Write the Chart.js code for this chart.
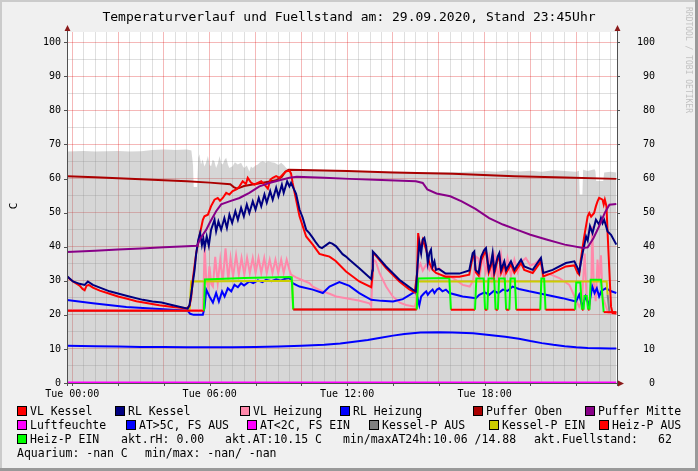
<!DOCTYPE html>
<html>
<head>
<meta charset="utf-8">
<script src="https://cdn.jsdelivr.net/npm/chart.js@4.4.0/dist/chart.umd.min.js"></script>
<style>
	html, body { margin:0; padding:0; background:#f0f0f0; }
	#wrap { position:relative; width:698px; height:471px; overflow:hidden; font-family:'DejaVu Sans Mono', monospace; color:#000; }
	#c { position:absolute; left:0; top:0; }
	.t { position:absolute; white-space:pre; }
	.lg { position:absolute; white-space:pre; font-size:11.5px; line-height:14px; height:14px; }
	.sq { position:absolute; width:8px; height:8px; border:1px solid #000; }
</style>
</head>
<body>
<div id="wrap">
<canvas id="c" width="698" height="471"></canvas>
<div class="t" style="left:0; top:10px; width:698px; text-align:center; font-size:13px; line-height:14px;">Temperaturverlauf und Fuellstand am: 29.09.2020, Stand 23:45Uhr</div>
<div class="t" style="left:8px; top:199px; width:12px; height:14px; text-align:center; font-size:11px; line-height:14px; transform:rotate(-90deg);">C</div>
<div class="t" style="left:628px; top:55px; width:120px; height:10px; text-align:center; font-size:8px; line-height:10px; color:#c2c2c2; transform:rotate(90deg);">RRDTOOL / TOBI OETIKER</div>
<div id="legend"></div>
</div>
<script>
// time in hours since Tue 00:00, values in C
var fuellstand = [[-0.25,67.9],[0.5,68.1],[1.0,67.9],[1.5,68.0],[2.0,68.1],[2.5,67.9],[3.0,68.0],[3.5,68.4],[4.0,68.5],[4.5,68.4],[5.0,68.5],[5.2,68.2],[5.27,64],[5.3,57.5],[5.45,57.5],[5.5,66],[5.55,67.1],[5.62,64.1],[5.69,65.6],[5.77,63.5],[5.84,64.6],[5.92,66.6],[6.0,64],[6.06,63.6],[6.13,65.5],[6.2,65.1],[6.28,63.1],[6.36,64.5],[6.43,66.6],[6.5,64.5],[6.57,64.1],[6.65,65.5],[6.72,66.1],[6.8,64],[6.86,63.1],[7.0,63.6],[7.1,64.8],[7.22,64.1],[7.37,64.6],[7.45,63.5],[7.51,63.1],[7.62,63.8],[7.73,62.1],[7.8,63.5],[7.88,63.1],[8.0,63.8],[8.1,64.1],[8.2,64.8],[8.32,65.1],[8.45,64.6],[8.54,65.1],[8.7,64.8],[8.83,64.6],[9.0,64.0],[9.12,64.6],[9.25,63.8],[9.34,63.1],[9.48,62.6],[10,62.4],[12,62.2],[15,61.9],[17,61.9],[18,62.2],[18.5,62.0],[19,62.4],[19.5,62.1],[20,62.3],[20.5,62.0],[21,62.4],[21.5,62.2],[22,62.0],[22.12,62.3],[22.15,55.3],[22.27,55.3],[22.3,62.6],[22.5,62.2],[22.8,62.7],[22.84,62.1],[22.87,59.3],[23.18,59.3],[23.22,61.8],[23.5,62.0],[23.75,61.8]];
var vlKessel = [[-0.25,31.3],[0.03,29.8],[0.32,28.6],[0.45,27.6],[0.54,27.2],[0.62,28.5],[0.72,28.8],[0.9,28.0],[1.2,27.1],[1.63,26.2],[2.0,25.4],[2.4,24.7],[2.8,24.0],[3.3,23.4],[3.8,22.8],[4.4,22.3],[5.0,21.9],[5.12,22.6],[5.19,25.0],[5.26,30.3],[5.34,34.5],[5.41,38.1],[5.55,43],[5.7,47.9],[5.77,48.9],[5.92,49.4],[6.06,51.9],[6.21,53.8],[6.35,54.3],[6.45,53.5],[6.57,54.3],[6.72,55.8],[6.86,55.3],[7.0,56.3],[7.16,56.8],[7.3,57.7],[7.44,59.2],[7.58,58.4],[7.66,60.2],[7.8,58.8],[7.95,58.2],[8.1,58.7],[8.25,59.2],[8.39,58.2],[8.54,57.0],[8.65,59.7],[8.75,60.2],[8.9,60.7],[9.05,60.2],[9.19,61.2],[9.34,62.1],[9.48,62.3],[9.55,61.5],[9.62,58.7],[9.77,53.8],[9.92,48.9],[10.21,43],[10.5,40.6],[10.79,37.9],[11.0,37.5],[11.23,37.1],[11.5,35.8],[11.95,32.7],[12.53,29.8],[13.05,28.1],[13.1,31],[13.13,38.1],[13.25,37.4],[13.7,33.7],[14.28,29.8],[14.7,27.5],[14.95,26.6],[15.05,32],[15.1,44],[15.2,39],[15.3,42],[15.45,39.1],[15.59,35.2],[15.73,33.2],[15.88,32.3],[16.3,31.2],[16.9,31.2],[17.33,31.8],[17.48,37],[17.55,37.5],[17.62,32.5],[17.74,31.5],[17.85,36],[18.0,38.2],[18.06,38.6],[18.18,32.3],[18.28,34.3],[18.35,37.2],[18.42,31.8],[18.57,36.2],[18.64,37.2],[18.72,32.3],[18.86,34.8],[18.94,32.3],[19.15,34.8],[19.3,32.3],[19.59,35.2],[19.73,33.2],[20.1,32.3],[20.46,35.7],[20.56,31.3],[20.97,32.3],[21.55,34.2],[21.92,34.5],[22.06,32.3],[22.13,31.8],[22.2,36.2],[22.35,43],[22.5,48.9],[22.57,49.9],[22.65,48.8],[22.78,49.9],[22.86,51.9],[22.93,53.3],[23.0,54.3],[23.15,53.8],[23.2,52.4],[23.25,53.8],[23.32,51.9],[23.37,44],[23.45,32.3],[23.52,22.4],[23.59,20.5],[23.75,20.4]];
var rlKessel = [[-0.25,31.5],[0.03,29.8],[0.32,29.1],[0.54,28.8],[0.68,29.8],[0.9,28.8],[1.63,26.9],[2.36,25.6],[3.08,24.4],[3.5,23.9],[3.9,23.6],[4.39,22.8],[5.04,21.8],[5.12,22.9],[5.19,25.9],[5.26,29.3],[5.34,33.2],[5.41,38],[5.5,42],[5.58,44],[5.66,40.5],[5.72,42.5],[5.78,39.8],[5.87,43],[5.96,40.3],[6.06,45],[6.21,47.9],[6.28,44.5],[6.38,47.4],[6.5,45],[6.64,48.4],[6.75,45.5],[6.86,49.4],[6.98,47.0],[7.12,50.4],[7.23,47.9],[7.37,51.4],[7.49,48.9],[7.62,52.4],[7.73,49.9],[7.88,53.3],[8.0,50.9],[8.14,54.3],[8.25,51.9],[8.39,55.3],[8.49,52.9],[8.64,56.3],[8.75,53.8],[8.9,57.3],[9.0,54.8],[9.15,58.2],[9.23,55.8],[9.38,59.2],[9.48,57.7],[9.55,58.7],[9.62,57.7],[9.77,55.5],[9.92,50.9],[10.06,48.5],[10.21,45],[10.35,44],[10.5,42.6],[10.65,41.1],[10.79,39.9],[10.9,39.6],[11.05,40.3],[11.23,41.2],[11.35,40.9],[11.52,40.1],[11.8,37.8],[11.95,37.1],[12.1,36.2],[12.53,33.7],[13.05,30.5],[13.1,33],[13.12,38.6],[13.26,37.6],[13.7,34.2],[14.28,30.3],[14.86,27.4],[15.0,26.9],[15.08,35],[15.15,41.1],[15.23,38.1],[15.3,42.1],[15.37,42.6],[15.45,40.1],[15.52,35.2],[15.59,38.1],[15.66,39.1],[15.73,34.2],[15.81,35.7],[15.88,33.2],[16.0,33.5],[16.3,32.1],[16.9,32.1],[17.33,33],[17.48,38.1],[17.55,38.6],[17.6,33.2],[17.74,32.3],[17.85,37.1],[17.99,39.1],[18.06,39.6],[18.18,33.2],[18.28,35.2],[18.35,38.1],[18.42,32.7],[18.57,37.1],[18.64,38.1],[18.72,33.2],[18.86,35.7],[18.94,33.2],[19.15,35.7],[19.3,33.2],[19.59,36.2],[19.73,34.2],[20.1,33.2],[20.46,36.7],[20.56,32.3],[20.97,33.2],[21.55,35.2],[21.92,35.7],[22.06,33.7],[22.13,32.5],[22.2,35.2],[22.28,38.1],[22.43,43],[22.5,41.8],[22.6,46],[22.71,44],[22.86,47.9],[23.0,46.5],[23.08,48.4],[23.15,46.9],[23.22,47.9],[23.37,44.5],[23.52,43.5],[23.75,40.6]];
var vlHeizung = [[-0.25,21.4],[5.7,21.4],[5.74,30],[5.78,40],[5.85,30],[5.92,28.3],[5.99,34.2],[6.07,29],[6.14,28.3],[6.24,37],[6.35,29.3],[6.46,36.2],[6.57,29.8],[6.69,39.5],[6.81,30.3],[6.91,36.7],[7.02,31.3],[7.15,37.5],[7.27,31.8],[7.39,36.7],[7.51,31.8],[7.63,36.7],[7.75,32.3],[7.88,36.7],[8.0,32.3],[8.13,36.7],[8.25,32.3],[8.38,36.7],[8.49,32.3],[8.62,36.2],[8.74,32.3],[8.87,36.2],[8.99,32.3],[9.12,36.2],[9.23,32.3],[9.36,36.2],[9.48,33.2],[9.55,31.8],[9.77,31],[10.0,30.3],[10.35,29.3],[10.5,28.3],[10.93,26.9],[11.23,26.2],[11.52,25.4],[11.95,24.9],[12.5,24.2],[12.97,23.4],[13.05,22.6],[13.1,30],[13.15,36.2],[13.25,35.7],[13.41,32.3],[13.7,28.3],[13.99,25.4],[14.3,23.6],[14.57,22.9],[14.95,22.4],[15.02,24],[15.08,33.2],[15.2,35],[15.3,33],[15.45,34.7],[15.59,33.2],[15.7,35.5],[15.85,33],[16.0,33.8],[16.3,31.8],[16.5,31.3],[16.8,30],[17.04,28.8],[17.35,28.3],[17.5,30],[17.62,37.1],[17.74,36.5],[17.8,32],[17.92,37.5],[18.05,32.5],[18.2,37],[18.32,31],[18.45,37.2],[18.6,30.5],[18.72,37.5],[18.86,30.3],[19.0,36.5],[19.15,31.5],[19.3,36.2],[19.45,32.5],[19.6,35.5],[19.8,36.7],[20.0,34.5],[20.2,35],[20.39,36.2],[20.6,32.3],[20.9,31.8],[21.26,30.8],[21.7,28.8],[21.99,24.4],[22.13,22.4],[22.25,24],[22.37,38],[22.45,25.4],[22.6,23.4],[22.66,30],[22.7,46],[22.76,30],[22.85,24],[22.93,36.2],[23.0,30],[23.08,37.5],[23.15,25.4],[23.3,22.4],[23.4,20.6],[23.75,20.5]];
var rlHeizung = [[-0.25,24.4],[0.9,23.4],[2.36,22.3],[3.81,21.7],[5.04,21.2],[5.15,20.3],[5.3,20],[5.7,20],[5.77,22],[5.85,27.4],[5.99,25.4],[6.14,23.6],[6.28,26.4],[6.4,23.9],[6.54,26.9],[6.65,25.4],[6.79,27.8],[6.94,26.9],[7.08,28.8],[7.23,28.1],[7.37,29.3],[7.5,28.6],[7.73,29.8],[7.9,29.3],[8.1,30.1],[8.3,29.6],[8.46,30.3],[8.7,29.9],[8.9,30.4],[9.1,30.0],[9.3,30.6],[9.48,30.8],[9.62,29.3],[9.92,28.3],[10.5,27.4],[10.94,26.4],[11.23,28.3],[11.66,29.6],[12.1,28.5],[12.53,26.4],[13.05,24.4],[13.5,24.1],[14.0,23.9],[14.43,24.6],[14.86,26.4],[15.0,26.9],[15.15,22.8],[15.23,25.4],[15.3,25.9],[15.37,26.4],[15.45,26.9],[15.52,25.9],[15.6,26.6],[15.73,27.4],[15.81,26.4],[15.92,27.4],[16.02,27.8],[16.16,26.9],[16.31,27.4],[16.46,26.4],[17.04,25.4],[17.62,24.9],[17.77,25.9],[18.0,26.6],[18.2,25.9],[18.4,27],[18.6,26.4],[18.8,27.4],[19.0,27],[19.22,28.3],[19.5,27.6],[19.95,26.9],[20.68,25.9],[21.4,24.9],[21.99,23.9],[22.13,25.9],[22.27,22.4],[22.41,25.4],[22.56,22.8],[22.7,28.3],[22.8,26.4],[22.9,27.8],[23.0,25.4],[23.1,27],[23.3,27.8],[23.5,27],[23.75,26.4]];
var pufferOben = [[-0.25,60.7],[1,60.4],[2,60.1],[3,59.8],[4,59.5],[5,59.2],[6,58.8],[6.9,58.3],[7.05,57.5],[7.2,57.0],[7.35,57.4],[7.5,57.8],[8.0,58.4],[8.5,59.0],[8.9,59.5],[9.15,60.5],[9.3,62.0],[9.45,62.6],[10,62.5],[12,62.2],[14,61.8],[16.6,61.4],[19.3,60.7],[21.5,60.3],[23.75,59.9]];
var pufferMitte = [[-0.25,38.4],[1,38.8],[2,39.2],[3,39.5],[4,39.8],[5,40.1],[5.45,40.3],[5.6,42.5],[5.85,45],[6.0,47],[6.28,50.4],[6.5,52.4],[6.86,53.3],[7.3,54.3],[7.73,55.8],[8.17,57.7],[8.6,58.7],[9.05,59.5],[9.48,60.2],[9.8,60.5],[11,60.2],[12.1,59.9],[13.5,59.6],[15.0,59.2],[15.3,58.7],[15.5,56.8],[15.9,55.6],[16.5,54.8],[17.0,53.3],[17.6,51.1],[18.2,48.4],[18.8,46.5],[19.4,45],[20,43.5],[20.7,42.1],[21.5,40.6],[22.3,39.6],[22.5,39.8],[22.75,42.5],[23,46],[23.25,50],[23.45,52.3],[23.75,52.5]];
var luftfeuchte = [[-0.25,0],[23.75,0]];
var aussen = [[-0.25,10.9],[1,10.8],[2,10.7],[3,10.6],[4,10.6],[5,10.5],[6,10.5],[7,10.5],[8,10.6],[9,10.7],[10,10.9],[11,11.2],[11.7,11.6],[12.3,12.1],[12.9,12.6],[13.4,13.2],[14,13.9],[14.5,14.4],[15.2,14.8],[16,14.88],[16.6,14.8],[17.5,14.6],[18.2,14.1],[18.9,13.6],[19.5,13.0],[20,12.3],[20.5,11.7],[21,11.2],[21.5,10.8],[22,10.5],[22.5,10.3],[23,10.2],[23.5,10.1],[23.75,10.15]];
var kesselP = [[-0.25,21.2],[5.12,21.2],[5.19,29.8],[9.6,30],[9.64,21.6],[15.02,21.6],[15.08,29.8],[23.33,29.8],[23.37,25.9],[23.45,20.8],[23.75,20.8]];
var heizP = [[-0.25,21.2],[5.75,21.2],[5.79,30.4],[7.5,30.8],[9.5,31.1],[9.58,31.0],[9.65,21.6],[15.04,21.6],[15.1,30.7],[16.46,30.8],[16.53,21.5],[17.58,21.5],[17.64,30.7],[17.96,30.7],[18.02,21.5],[18.12,21.5],[18.17,30.7],[18.42,30.7],[18.48,21.5],[18.58,21.5],[18.63,30.7],[18.88,30.7],[18.94,21.5],[19.08,21.5],[19.13,30.7],[19.32,30.7],[19.38,21.5],[20.43,21.5],[20.48,30.7],[20.6,30.7],[20.66,21.5],[21.95,21.5],[22.0,29.5],[22.18,29.5],[22.25,21.5],[22.32,21.5],[22.36,25.5],[22.46,25.5],[22.52,21.5],[22.58,21.5],[22.63,30.3],[23.08,30.3],[23.2,20.8],[23.75,20.8]];

// legend rows: label, colour
var legendRow1 = [['VL Kessel','#ff0000'],['RL Kessel','#000080'],['VL Heizung','#ff88aa'],['RL Heizung','#0000ff'],['Puffer Oben','#aa0000'],['Puffer Mitte','#880088']];
var legendRow2 = [['Luftfeuchte','#ff00ff'],['AT>5C, FS AUS','#0000ff'],['AT<2C, FS EIN','#ff00ff'],['Kessel-P AUS','#808080'],['Kessel-P EIN','#cccc00'],['Heiz-P AUS','#ff0000']];
var legendRow3 = [['Heiz-P EIN','#00ff00']];
var infoRow3 = ['akt.rH: 0.00','akt.AT:10.15 C','min/maxAT24h:10.06 /14.88','akt.Fuellstand:','62'];
var infoRow4 = ['Aquarium: -nan C','min/max: -nan/ -nan'];

//convert [h, v] pairs to chart points
function pts(a) {
	var r = [];
	for (var i in a) {
		r.push({x: a[i][0], y: a[i][1]});
	}
	return r;
}

//legend layout
var lg = document.getElementById('legend');
function sq(x, y, color) {
	var d = document.createElement('div');
	d.className = 'sq';
	d.style.left = x + 'px';
	d.style.top = (y - 5) + 'px';
	d.style.background = color;
	lg.appendChild(d);
}
function txt(x, y, s) {
	var d = document.createElement('div');
	d.className = 'lg';
	d.style.left = x + 'px';
	d.style.top = (y - 7) + 'px';
	d.textContent = s;
	lg.appendChild(d);
}
var row1X = [17, 115, 240, 340, 473, 585];
var row2X = [17, 126, 247, 369, 489, 599];
for (var i in legendRow1) { sq(row1X[i], 411, legendRow1[i][1]); txt(row1X[i] + 13, 411, legendRow1[i][0]); }
for (var i in legendRow2) { sq(row2X[i], 425, legendRow2[i][1]); txt(row2X[i] + 13, 425, legendRow2[i][0]); }
sq(17, 439, legendRow3[0][1]); txt(30, 439, legendRow3[0][0]);
var info3X = [121, 225, 343, 534, 658];
for (var i in infoRow3) { txt(info3X[i], 439, infoRow3[i]); }
txt(17, 453, infoRow4[0]);
txt(145, 453, infoRow4[1]);

//datasets, bottom first
var list = [
	{ data: pts(fuellstand), fill: 'origin', backgroundColor: 'rgba(140,140,140,0.36)', borderWidth: 0 },
	{ data: pts(aussen), borderColor: '#0000ff' },
	{ data: pts(pufferOben), borderColor: '#aa0000' },
	{ data: pts(vlHeizung), borderColor: '#ff88aa' },
	{ data: pts(rlHeizung), borderColor: '#0000ff' },
	{ data: pts(kesselP), borderColor: '#cccc00', segment: { borderColor: function(c) { return Math.max(c.p0.parsed.y, c.p1.parsed.y) > 26 ? '#cccc00' : '#808080'; } } },
	{ data: pts(heizP), borderColor: '#00ff00', segment: { borderColor: function(c) { return Math.max(c.p0.parsed.y, c.p1.parsed.y) > 23 ? '#00ff00' : '#ff0000'; } } },
	{ data: pts(vlKessel), borderColor: '#ff0000' },
	{ data: pts(rlKessel), borderColor: '#000080' },
	{ data: pts(pufferMitte), borderColor: '#880088' },
	{ data: pts(luftfeuchte), borderColor: '#ff00ff', borderWidth: 3 }
];
for (var i = 0; i < list.length; i++) {
	list[i].order = list.length - i;
}

var FONT = "'DejaVu Sans Mono', monospace";

var frame = {
	id: 'frame',
	beforeDraw: function(chart) {
		var c = chart.ctx, a = chart.chartArea;
		c.save();
		c.fillStyle = '#f0f0f0';
		c.fillRect(0, 0, 698, 471);
		c.fillStyle = '#cbcbcb';
		c.fillRect(0, 0, 698, 2);
		c.fillRect(0, 0, 2, 471);
		c.fillStyle = '#999999';
		c.fillRect(0, 468, 698, 3);
		c.fillRect(695, 0, 3, 471);
		c.fillStyle = '#ffffff';
		c.fillRect(a.left, a.top, a.right - a.left, a.bottom - a.top);
		c.restore();
	},
	afterDatasetsDraw: function(chart) {
		var c = chart.ctx, a = chart.chartArea;
		var ys = chart.scales.y, xs = chart.scales.x;
		c.save();
		c.strokeStyle = '#505050';
		c.lineWidth = 1;
		c.beginPath();
		c.moveTo(a.left + 0.5, a.bottom + 3); c.lineTo(a.left + 0.5, a.top - 4);
		c.moveTo(a.right + 0.5, a.bottom + 3); c.lineTo(a.right + 0.5, a.top - 4);
		c.moveTo(a.left - 3, a.bottom + 0.5); c.lineTo(a.right + 3, a.bottom + 0.5);
		//tick marks
		for (var v = 0; v <= 100; v += 10) {
			var py = Math.round(ys.getPixelForValue(v)) + 0.5;
			c.moveTo(a.left - 3, py); c.lineTo(a.left, py);
			c.moveTo(a.right, py); c.lineTo(a.right + 3, py);
		}
		for (var h = 0; h < 24; h += 2) {
			var px = Math.round(xs.getPixelForValue(h)) + 0.5;
			c.moveTo(px, a.bottom); c.lineTo(px, a.bottom + 3);
		}
		c.stroke();
		//arrows
		c.fillStyle = '#8b1a1a';
		c.beginPath();
		c.moveTo(a.left - 2.5, a.top - 1); c.lineTo(a.left + 3.5, a.top - 1); c.lineTo(a.left + 0.5, a.top - 7); c.closePath();
		c.moveTo(a.right - 2.5, a.top - 1); c.lineTo(a.right + 3.5, a.top - 1); c.lineTo(a.right + 0.5, a.top - 7); c.closePath();
		c.moveTo(a.right + 1, a.bottom - 2.5); c.lineTo(a.right + 1, a.bottom + 3.5); c.lineTo(a.right + 7, a.bottom + 0.5); c.closePath();
		c.fill();
		c.restore();
	}
};

var chart = new Chart(document.getElementById('c'), {
	type: 'line',
	data: { datasets: list },
	options: {
		responsive: false,
		animation: false,
		devicePixelRatio: 1,
		layout: { padding: { top: 32, left: 0, right: 0, bottom: 0 } },
		plugins: { legend: { display: false }, tooltip: { enabled: false } },
		elements: { point: { radius: 0 }, line: { tension: 0, borderWidth: 2 } },
		scales: {
			x: {
				type: 'linear', min: -0.23, max: 23.78,
				afterFit: function(s) { s.height = 88; },
				border: { display: false },
				grid: {
					drawTicks: false,
					color: function(c) { return c.tick.value % 2 === 0 ? 'rgba(220,0,0,0.28)' : 'rgba(128,128,128,0.25)'; }
				},
				ticks: {
					stepSize: 0.5, maxTicksLimit: 1000, autoSkip: false, maxRotation: 0, minRotation: 0, includeBounds: false, padding: 5,
					color: '#000', font: { family: FONT, size: 10 },
					callback: function(v) { return v % 6 === 0 ? 'Tue ' + (v < 10 ? '0' : '') + v + ':00' : ''; }
				}
			},
			y: {
				position: 'left', min: 0, max: 103,
				afterFit: function(s) { s.width = 67; },
				border: { display: false },
				grid: {
					drawTicks: false,
					color: function(c) { return c.tick.value % 10 === 0 ? 'rgba(220,0,0,0.28)' : 'rgba(128,128,128,0.25)'; }
				},
				ticks: {
					stepSize: 5, maxTicksLimit: 1000, includeBounds: false, padding: 6,
					color: '#000', font: { family: FONT, size: 10 },
					callback: function(v) { return v % 10 === 0 ? '' + v : ''; }
				}
			},
			y2: {
				position: 'right', min: 0, max: 103,
				afterFit: function(s) { s.width = 81; },
				border: { display: false },
				grid: { display: false, drawTicks: false },
				ticks: {
					stepSize: 10, maxTicksLimit: 1000, includeBounds: false, padding: 20,
					color: '#000', font: { family: FONT, size: 10 },
					callback: function(v) { var s = '' + v; while (s.length < 3) s = ' ' + s; return s; }
				}
			}
		}
	},
	plugins: [frame]
});
</script>
</body>
</html>
